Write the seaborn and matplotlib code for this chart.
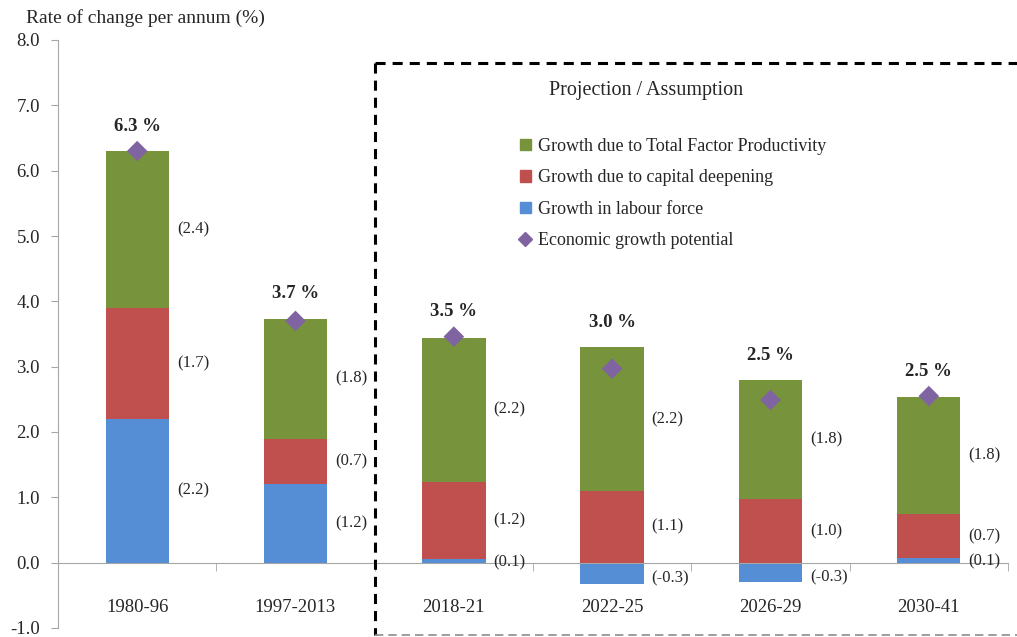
import matplotlib
matplotlib.use("Agg")
import matplotlib.pyplot as plt
from matplotlib.patches import Patch
from matplotlib.lines import Line2D
import numpy as np
import pandas as pd
import seaborn as sns

PERIODS = ["1980-96", "1997-2013", "2018-21", "2022-25", "2026-29", "2030-41"]
LABOUR  = [2.2, 1.2, 0.06, -0.33, -0.30, 0.07]
CAPITAL = [1.7, 0.7, 1.18, 1.10, 0.97, 0.67]
TFP     = [2.4, 1.83, 2.20, 2.20, 1.82, 1.80]
POTENTIAL = [6.3, 3.7, 3.46, 2.97, 2.49, 2.55]

LABOUR_TXT  = ["(2.2)", "(1.2)", "(0.1)", "(-0.3)", "(-0.3)", "(0.1)"]
CAPITAL_TXT = ["(1.7)", "(0.7)", "(1.2)", "(1.1)", "(1.0)", "(0.7)"]
TFP_TXT     = ["(2.4)", "(1.8)", "(2.2)", "(2.2)", "(1.8)", "(1.8)"]
TOTAL_TXT   = ["6.3 %", "3.7 %", "3.5 %", "3.0 %", "2.5 %", "2.5 %"]

GREEN = "#77933C"
RED = "#C0504D"
BLUE = "#558ED5"
PURPLE = "#8064A2"
FONT = "Liberation Serif"

sns.set_style("white")
plt.rcParams["font.family"] = [FONT, "DejaVu Serif"]

# cumulative tops for layered (stacked) bars
lab = np.array(LABOUR)
cap_top = np.clip(lab, 0, None) + np.array(CAPITAL)
tfp_top = cap_top + np.array(TFP)
df = pd.DataFrame({"period": PERIODS, "labour": lab, "cap_top": cap_top,
                   "tfp_top": tfp_top, "potential": POTENTIAL})

fig = plt.figure(figsize=(10.17, 6.37), dpi=100)
ax = fig.add_axes([58/1017, 9/637, 950/1017, 588/637])

bar_kw = dict(width=0.4, errorbar=None, linewidth=0, ax=ax)
sns.barplot(data=df, x="period", y="tfp_top", color=GREEN, saturation=1, **bar_kw)
sns.barplot(data=df, x="period", y="cap_top", color=RED, saturation=1, **bar_kw)
sns.barplot(data=df, x="period", y="labour", color=BLUE, saturation=1, **bar_kw)
sns.scatterplot(data=df, x="period", y="potential", marker="D", s=110,
                color=PURPLE, edgecolor="none", ax=ax, zorder=5)

ax.set_ylim(-1.0, 8.0)
ax.set_xlim(-0.5, 5.5)
ax.set_yticks(np.arange(-1, 9, 1))
ax.set_yticklabels([f"{v:.1f}" for v in np.arange(-1, 9, 1)], fontsize=13.5)
ax.set_xlabel("")
ax.set_ylabel("")

for s in ["top", "right"]:
    ax.spines[s].set_visible(False)
ax.spines["left"].set_color("#A6A6A6")
ax.spines["bottom"].set_color("#A6A6A6")
ax.spines["bottom"].set_position(("data", 0))
ax.tick_params(axis="y", length=5, color="#A6A6A6", direction="out", left=True, pad=8)
ax.tick_params(axis="x", which="major", length=0, pad=26, labelsize=13.5)
ax.set_xticks(np.arange(0.5, 6, 1), minor=True)
ax.tick_params(axis="x", which="minor", length=6, color="#A6A6A6", direction="out", bottom=True)

# segment labels
for i in range(len(PERIODS)):
    if LABOUR[i] < 0:
        lab_y = LABOUR[i] / 2 - 0.08
    elif LABOUR[i] < 0.2:
        lab_y = LABOUR[i] / 2 - 0.02
    else:
        lab_y = LABOUR[i] / 2
    ax.text(i + 0.25, lab_y, LABOUR_TXT[i], ha="left", va="center", fontsize=12)
    cap_lo = max(LABOUR[i], 0)
    ax.text(i + 0.25, (cap_lo + cap_top[i]) / 2, CAPITAL_TXT[i], ha="left", va="center", fontsize=12)
    ax.text(i + 0.25, (cap_top[i] + tfp_top[i]) / 2, TFP_TXT[i], ha="left", va="center", fontsize=12)
    top = max(tfp_top[i], POTENTIAL[i])
    ax.annotate(TOTAL_TXT[i], (i, top), xytext=(0, 18), textcoords="offset points",
                ha="center", va="center", fontsize=13.5, fontweight="bold")

# projection box
box_kw = dict(transform=fig.transFigure, clip_on=False, color="black", lw=2.2,
              linestyle=(0, (3.3, 2.3)))
x0, y0, y1 = 375/1017, 1 - 63/637, 1 - 635/637
fig.add_artist(Line2D([x0, 1.01], [y0, y0], **box_kw))
fig.add_artist(Line2D([x0, x0], [y0, y1], **box_kw))
fig.add_artist(Line2D([x0, 1.01], [y1, y1], transform=fig.transFigure, clip_on=False,
                      color="#8C8C8C", lw=1.2, linestyle=(0, (5, 3))))

fig.text(646/1017, 1 - 90/637, "Projection / Assumption", ha="center", va="center", fontsize=14.5)

handles = [Patch(color=GREEN), Patch(color=RED), Patch(color=BLUE),
           Line2D([], [], marker="D", color=PURPLE, linestyle="none", markersize=7)]
labels = ["Growth due to Total Factor Productivity", "Growth due to capital deepening",
          "Growth in labour force", "Economic growth potential"]
fig.legend(handles, labels, loc="upper left", bbox_to_anchor=(511/1017, 1 - 129/637),
           frameon=False, fontsize=13, handlelength=0.6, handleheight=0.6,
           handletextpad=0.4, labelspacing=0.8, borderpad=0)

fig.text(26/1017, 1 - 18/637, "Rate of change per annum (%)", ha="left", va="center", fontsize=14)

fig.savefig("out.png", dpi=100)
